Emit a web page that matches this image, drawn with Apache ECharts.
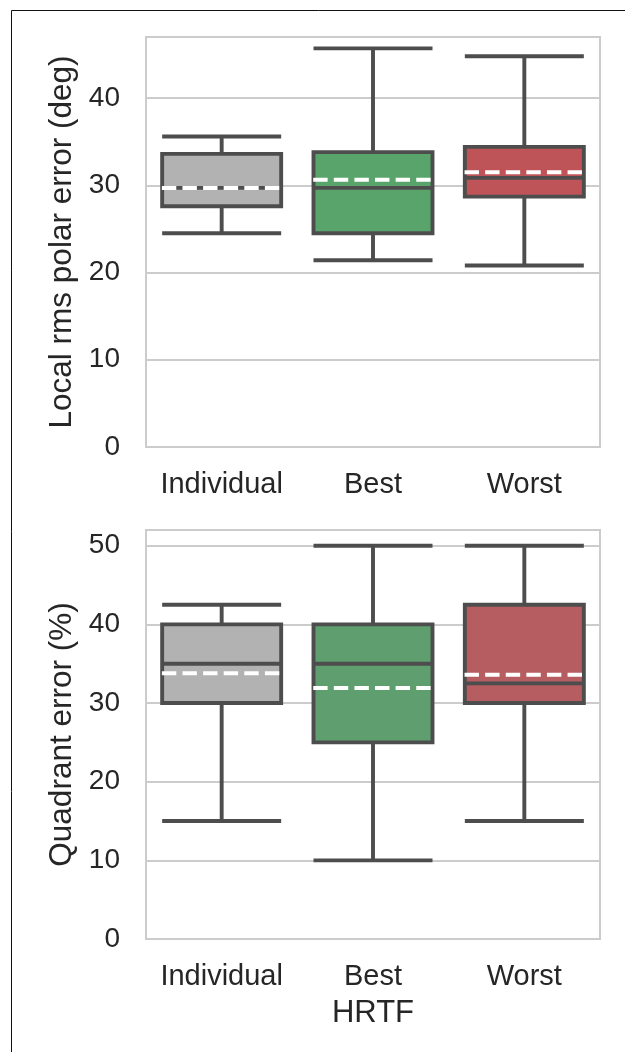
<!DOCTYPE html>
<html>
<head>
<meta charset="utf-8">
<script src="https://cdn.jsdelivr.net/npm/echarts@6/dist/echarts.min.js"></script>
<style>
html,body{margin:0;padding:0;background:#fff;}
#chart{width:625px;height:1052px;}
</style>
</head>
<body>
<div id="chart"></div>
<script>
// ---- data ----
const categories = ['Individual', 'Best', 'Worst'];

const polarMin    = [24.5, 21.4, 20.8];
const polarQ1     = [27.6, 24.5, 28.7];
const polarMedian = [29.7, 29.7, 30.85];
const polarQ3     = [33.6, 33.8, 34.4];
const polarMax    = [35.6, 45.7, 44.8];
const polarMean   = [29.7, 30.65, 31.5];

const quadMin    = [15, 10, 15];
const quadQ1     = [30, 25, 30];
const quadMedian = [35, 35, 32.5];
const quadQ3     = [40, 40, 42.5];
const quadMax    = [42.5, 50, 50];
const quadMean   = [33.8, 31.9, 33.6];

const polarTicks = [0, 10, 20, 30, 40];
const quadTicks  = [0, 10, 20, 30, 40, 50];

// ---- styling ----
const topColors    = ['#b2b2b2', '#59a46a', '#be5458'];
const bottomColors = ['#b2b2b2', '#5f9e6e', '#b55d60'];
const edge = '#4d4d4d';
const textColor = '#262626';
const fontFamily = '"Liberation Sans", Arial, sans-serif';

function boxData(mn, q1, md, q3, mx, colors) {
  return categories.map((c, i) => ({
    value: [mn[i], q1[i], md[i], q3[i], mx[i]],
    itemStyle: { color: colors[i], borderColor: edge, borderWidth: 3.9 }
  }));
}
function meanData(mean) {
  return categories.map((c, i) => [i, mean[i]]);
}
function meanRender(params, api) {
  const c = api.coord([api.value(0), api.value(1)]);
  const w = api.size([1, 0])[0] * 0.79;
  return {
    type: 'line',
    shape: { x1: c[0] - w / 2, y1: c[1], x2: c[0] + w / 2, y2: c[1] },
    style: { stroke: '#ffffff', lineWidth: 4, lineDash: [14.4, 6.2] }
  };
}
function yAxis(gridIndex, max, ticks, name) {
  return {
    type: 'value', gridIndex, min: 0, max, interval: 10,
    name, nameLocation: 'middle', nameGap: 67,
    nameTextStyle: { fontSize: 31.5, color: textColor, fontFamily },
    axisLine: { show: false }, axisTick: { show: false },
    axisLabel: {
      fontSize: 28, color: textColor, fontFamily, margin: 26,
      showMaxLabel: false,
      formatter: v => ticks.indexOf(v) >= 0 ? String(v) : ''
    },
    splitLine: { show: true, lineStyle: { color: '#cccccc', width: 2 } }
  };
}
function xAxis(gridIndex, name) {
  return {
    type: 'category', gridIndex, data: categories, boundaryGap: true,
    name, nameLocation: 'middle', nameGap: 59,
    nameTextStyle: { fontSize: 31, color: textColor, fontFamily },
    axisLine: { show: false }, axisTick: { show: false },
    axisLabel: { fontSize: 29, color: textColor, fontFamily, margin: 23, interval: 0, hideOverlap: false },
    splitLine: { show: false }
  };
}

const chart = echarts.init(document.getElementById('chart'), null, { renderer: 'canvas' });
chart.setOption({
  animation: false,
  backgroundColor: '#ffffff',
  graphic: [
    { type: 'line', shape: { x1: 11.5, y1: 10.5, x2: 625, y2: 10.5 }, style: { stroke: '#111', lineWidth: 1 } },
    { type: 'line', shape: { x1: 11.5, y1: 10.5, x2: 11.5, y2: 1052 }, style: { stroke: '#111', lineWidth: 1 } }
  ],
  grid: [
    { left: 146, top: 37, width: 454, height: 410, show: true, borderColor: '#cccccc', borderWidth: 2, backgroundColor: 'transparent' },
    { left: 146, top: 530, width: 454, height: 409, show: true, borderColor: '#cccccc', borderWidth: 2, backgroundColor: 'transparent' }
  ],
  xAxis: [xAxis(0, ''), xAxis(1, 'HRTF')],
  yAxis: [
    yAxis(0, 47, polarTicks, 'Local rms polar error (deg)'),
    yAxis(1, 52, quadTicks, 'Quadrant error (%)')
  ],
  series: [
    {
      type: 'boxplot', xAxisIndex: 0, yAxisIndex: 0,
      boxWidth: [119, 119],
      data: boxData(polarMin, polarQ1, polarMedian, polarQ3, polarMax, topColors),
      z: 3
    },
    {
      type: 'custom', xAxisIndex: 0, yAxisIndex: 0,
      renderItem: meanRender, data: meanData(polarMean), z: 5
    },
    {
      type: 'boxplot', xAxisIndex: 1, yAxisIndex: 1,
      boxWidth: [119, 119],
      data: boxData(quadMin, quadQ1, quadMedian, quadQ3, quadMax, bottomColors),
      z: 3
    },
    {
      type: 'custom', xAxisIndex: 1, yAxisIndex: 1,
      renderItem: meanRender, data: meanData(quadMean), z: 5
    }
  ]
});
</script>
</body>
</html>
